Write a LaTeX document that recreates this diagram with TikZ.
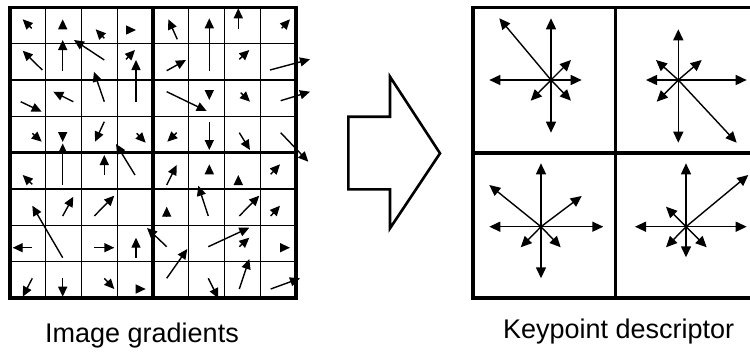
\documentclass[tikz,border=0pt]{standalone}
\usepackage{fontspec}
\setmainfont{Liberation Sans}
\usetikzlibrary{arrows.meta}
\begin{document}
\begin{tikzpicture}[x=1pt,y=-1pt,
  thingrid/.style={line width=1.3pt},
  thickgrid/.style={line width=3.3pt},
  garr/.style={line width=1.4pt,-{Triangle[length=10pt,width=9pt]}},
  darr/.style={line width=1.4pt,-{Triangle[length=11pt,width=10pt]}},
  block/.style={line width=2.6pt,line join=miter},
  lbl/.style={font=\fontsize{27}{32}\selectfont,anchor=base,inner sep=0pt}]
\useasboundingbox (0,0) rectangle (750,351);
\fill[white] (0,0) rectangle (750,351);
% left grid
\foreach \i in {1,2,3,5,6,7} {
  \draw[thingrid] ({10+35.75*\i},7.3) -- ({10+35.75*\i},298.1);
  \draw[thingrid] (10,{7.3+36.35*\i}) -- (296,{7.3+36.35*\i});
}
\draw[thickgrid] (10,7.3) rectangle (296,298.1);
\draw[thickgrid] (153,7.3) -- (153,298.1);
\draw[thickgrid] (10,152.7) -- (296,152.7);
% gradient arrows
\draw[garr] (31.7,28.3) -- (22.7,19.3);
\draw[garr] (62.7,28.3) -- (62.7,19.3);
\draw[garr] (104.3,38.3) -- (95.7,29.3);
\draw[garr] (126,30) -- (136,30);
\draw[garr] (177.3,39.3) -- (168.3,19.3);
\draw[garr] (209.3,71) -- (209.3,18.3);
\draw[garr] (238.3,29.3) -- (238.3,8.3);
\draw[garr] (281.7,28.3) -- (290,19.3);
\draw[garr] (42.3,70) -- (22.7,50.7);
\draw[garr] (62.7,71) -- (62.7,40);
\draw[garr] (104.3,60) -- (74,40);
\draw[garr] (126,59.3) -- (135,50);
\draw[garr] (136,101.7) -- (136,60);
\draw[garr] (166.7,70.7) -- (186,60);
\draw[garr] (239.3,59.3) -- (249.3,50);
\draw[garr] (270,70) -- (310,59.3);
\draw[garr] (20.7,101.7) -- (41.7,111.7);
\draw[garr] (73.3,101.7) -- (53.3,91.7);
\draw[garr] (104.3,101.7) -- (94,71.7);
\draw[garr] (166.7,91.7) -- (206.7,111);
\draw[garr] (209.3,90.7) -- (209.3,100);
\draw[garr] (240.7,92.7) -- (250,101.7);
\draw[garr] (280.7,100.7) -- (310,91.7);
\draw[garr] (32.3,133.3) -- (41.7,141.7);
\draw[garr] (62.7,132) -- (62.7,142);
\draw[garr] (104.3,121.7) -- (95,141.7);
\draw[garr] (136.7,133.3) -- (145.7,142.7);
\draw[garr] (176.7,132.7) -- (167.3,141.7);
\draw[garr] (209.3,121.7) -- (209.3,150);
\draw[garr] (239.3,132.7) -- (250,150);
\draw[garr] (280.7,132.7) -- (308.3,161.7);
\draw[garr] (32.3,184.3) -- (22.7,175);
\draw[garr] (62.7,185) -- (62.7,143.5);
\draw[garr] (104.3,175) -- (104.3,155);
\draw[garr] (135,175) -- (116,144);
\draw[garr] (166.7,185) -- (176.7,165);
\draw[garr] (209.3,173.3) -- (209.3,164.3);
\draw[garr] (238.3,184.3) -- (238.3,175);
\draw[garr] (270.7,174.3) -- (280,164.3);
\draw[garr] (62.7,257.7) -- (32.3,205.7);
\draw[garr] (62.7,216) -- (73.3,196.7);
\draw[garr] (94.3,216) -- (114.3,195.7);
\draw[garr] (166.7,216) -- (166.7,206.7);
\draw[garr] (208.3,216) -- (198.3,185.7);
\draw[garr] (239.3,216) -- (259.3,195.7);
\draw[garr] (270.7,216) -- (280,205.7);
\draw[garr] (31.7,247.7) -- (12.7,247.7);
\draw[garr] (94.3,247.7) -- (114.3,247.7);
\draw[garr] (136,257.7) -- (136,237.7);
\draw[garr] (166.7,246.7) -- (147,228);
\draw[garr] (208.3,246.7) -- (249.3,227.7);
\draw[garr] (239.3,246.7) -- (249.3,237.7);
\draw[garr] (280.7,247.7) -- (290,247.7);
\draw[garr] (32.3,278.3) -- (22.7,296.7);
\draw[garr] (62.7,277.7) -- (62.7,296.7);
\draw[garr] (104.3,278.3) -- (114.3,289);
\draw[garr] (136,289) -- (145.7,289);
\draw[garr] (166.7,278.3) -- (187.3,249);
\draw[garr] (208.3,278.3) -- (218.3,298.3);
\draw[garr] (239.3,289) -- (249.3,259);
\draw[garr] (270.7,289) -- (300,278.3);
% block arrow
\draw[block] (348.3,116.7) -- (390,116.7) -- (390,76.7) -- (440,153.3) -- (390,228.3) -- (390,189.3) -- (348.3,189.3) -- cycle;
% right grid
\draw[thickgrid] (750,7.3) -- (473,7.3) -- (473,298) -- (750,298);
\draw[thickgrid] (615.7,7.3) -- (615.7,298);
\draw[thickgrid] (473,153) -- (750,153);
% descriptor stars
\coordinate (s1) at (551,80);
\foreach \p in {(551,18.3),(551,132.7),(489.3,80),(581.7,80),(499.3,18.3),(571,60),(530.7,100.7),(571,100.7)}
  \draw[darr] (s1) -- \p;
\coordinate (s2) at (678.3,80);
\foreach \p in {(678.3,29.3),(678.3,142.7),(646,80),(746.7,80),(656,60),(701.7,60),(656.7,101.7),(736.7,142.7)}
  \draw[darr] (s2) -- \p;
\coordinate (s3) at (541,226.7);
\foreach \p in {(541,163.3),(541,278.3),(489.3,226.7),(603.3,226.7),(489.3,185),(581.7,196),(520.7,247.3),(560.7,247.3)}
  \draw[darr] (s3) -- \p;
\coordinate (s4) at (686,226.7);
\foreach \p in {(686,163.3),(686,257.3),(635,226.7),(746.7,226.7),(666,206.7),(748.3,175),(666,247.3),(706.7,247.3)}
  \draw[darr] (s4) -- \p;
% labels
\node[lbl] (lt) at (142,342.3) {Image gradients};
\node[lbl] (rt) at (618.7,338.3) {Keypoint descriptor};
\end{tikzpicture}
\end{document}
